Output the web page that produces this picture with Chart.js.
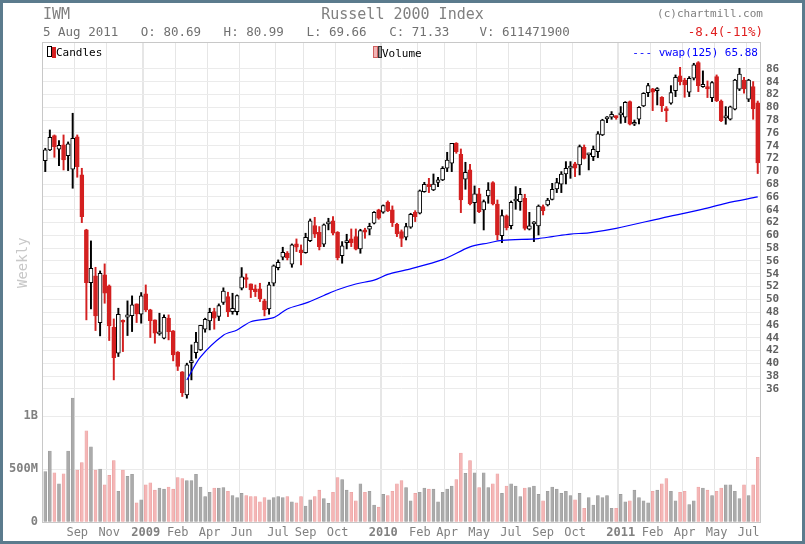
<!DOCTYPE html>
<html><head><meta charset="utf-8">
<script src="https://cdn.jsdelivr.net/npm/chart.js@4/dist/chart.umd.min.js"></script>
<style>
html,body{margin:0;padding:0;background:#fff;}
#wrap{position:relative;width:805px;height:544px;overflow:hidden;font-family:"DejaVu Sans Mono",monospace;}
canvas{position:absolute;left:0;top:0;}
.t{position:absolute;white-space:pre;color:#808080;font-size:13px;}
#frame{position:absolute;left:0;top:0;width:805px;height:544px;box-sizing:border-box;border:3px solid #5b7b8d;pointer-events:none;}
</style></head>
<body><div id="wrap">
<canvas id="c" width="805" height="544"></canvas>
<div class="t" style="left:43px;top:5px;font-size:15px;">IWM</div>
<div class="t" style="left:0;width:805px;text-align:center;top:5px;font-size:15px;">Russell 2000 Index</div>
<div class="t" style="right:42px;top:7px;font-size:11px;">(c)chartmill.com</div>
<div class="t" style="left:43px;top:24px;font-size:12.5px;color:#707070;">5 Aug 2011   O: 80.69   H: 80.99   L: 69.66   C: 71.33    V: 611471900</div>
<div class="t" style="right:42px;top:24px;font-size:12.5px;color:#e02020;">-8.4(-11%)</div>
<div class="t" style="left:47px;top:46px;font-size:11px;color:#000;"><span style="display:inline-block;width:3px;height:9px;border:1px solid #000;vertical-align:-1px"></span><span style="display:inline-block;width:4px;height:11px;background:#d42020;vertical-align:-2px"></span>Candles</div>
<div class="t" style="left:373px;top:46px;font-size:11px;color:#000;"><span style="display:inline-block;width:3px;height:10px;background:#f2b5b5;border:1px solid #d06060;vertical-align:-1px"></span><span style="display:inline-block;width:2px;height:10px;background:#999;border:1px solid #333;vertical-align:-1px"></span>Volume</div>
<div class="t" style="right:47px;top:46px;font-size:11px;color:#0000ff;">--- vwap(125) 65.88</div>
<div class="t" style="left:2px;top:260px;width:40px;text-align:center;font-size:14px;color:#c8c8c8;transform:rotate(-90deg);">Weekly</div>
<div id="frame"></div>
</div>
<script>
const opens=[71.68,73.35,75.59,73.45,74.13,72.46,70.33,75.38,69.44,60.85,52.62,53.66,46.37,53.82,52.1,45.64,41.58,46.63,47.2,47.46,49.29,47.67,50.85,48.35,46.79,44.6,43.92,47.05,45.07,41.74,38.66,35.07,40.12,41.68,42.1,45.33,46.63,48.09,47.31,49.5,50.43,48.09,48.09,51.73,53.24,52.41,51.63,51.63,49.76,48.5,52.51,54.96,56.58,57.2,55.48,58.66,57.72,57.3,59.18,61.52,60.48,58.61,61.78,62.25,60.48,56.84,58.87,59.44,59.8,57.88,60.85,60.95,61.89,63.97,63.61,65.17,63.97,61.73,60.6,59.7,61.26,63.6,63.45,66.83,68.03,67.09,68.29,68.66,70.48,71.26,74.38,72.67,68.76,70.22,65.11,66.47,63.97,66.16,68.24,64.9,59.96,63.03,61.52,65.37,65.27,65.79,60.95,61.78,61.47,64.49,64.75,65.63,67.25,67.98,69.59,70.48,71.16,71.0,73.76,72.58,72.31,73.09,75.69,78.19,78.45,78.66,78.82,78.45,80.9,77.36,78.14,80.22,82.3,82.88,82.62,81.58,79.81,80.64,82.62,84.91,84.28,82.36,84.55,86.99,83.24,83.24,81.53,84.81,81.0,78.35,78.14,79.7,82.83,84.28,81.27,83.24,80.69];
const closes=[73.35,75.33,73.87,74.08,71.79,74.29,75.17,70.74,62.93,52.62,54.86,47.41,54.08,50.95,45.85,40.9,47.67,46.42,47.57,49.13,47.72,50.54,48.35,46.68,44.7,44.86,47.2,44.96,41.32,39.5,35.43,39.76,40.38,43.3,45.95,46.89,47.98,47.05,49.03,51.3,48.09,48.61,50.59,53.5,53.1,51.47,51.21,50.07,48.35,52.25,55.22,55.8,57.36,56.52,58.5,58.14,57.3,59.7,62.25,60.17,58.24,61.63,62.04,60.33,56.52,58.35,58.97,58.87,57.83,60.74,60.48,61.42,63.61,62.67,64.65,63.82,61.99,60.22,59.5,61.36,63.29,62.93,66.94,67.98,67.61,68.03,68.66,70.48,71.78,74.38,73.08,65.53,69.85,64.9,66.47,63.71,65.27,67.09,64.9,60.06,63.08,61.21,65.17,65.53,66.42,61.1,61.47,61.88,64.59,63.86,65.53,67.2,68.24,69.59,70.48,70.84,70.48,73.86,72.04,72.68,73.45,75.85,78.03,78.35,78.92,78.4,79.08,80.8,77.36,77.67,80.01,82.2,83.4,82.36,82.88,80.28,79.49,82.3,84.7,84.03,83.5,84.55,86.63,83.4,83.61,82.88,83.87,81.06,77.93,78.45,80.1,84.28,85.22,82.88,84.28,79.75,71.33];
const highs=[73.61,76.47,75.69,74.81,75.69,74.6,79.08,75.69,70.48,60.95,59.13,55.01,54.44,55.54,52.25,46.94,48.61,46.79,49.76,50.54,49.29,51.06,52.25,48.45,46.79,47.83,47.57,47.57,45.12,41.84,38.71,40.02,42.88,44.86,45.95,47.05,48.61,48.61,49.29,51.8,51.11,50.95,50.69,54.96,53.97,52.41,52.25,52.51,50.02,52.67,55.38,56.16,58.14,57.46,58.66,59.44,58.5,60.33,62.56,62.82,61.37,61.78,62.67,62.93,60.59,59.02,60.17,61.0,61.0,60.95,61.11,61.89,63.71,64.08,64.75,65.38,64.6,61.89,60.85,61.88,63.45,63.86,67.09,68.29,68.91,69.59,69.07,70.74,72.98,74.38,74.49,73.5,71.42,71.1,67.72,67.35,65.53,68.24,68.39,65.53,63.97,63.19,65.37,67.61,67.35,66.42,63.6,62.15,64.75,64.75,65.79,68.13,68.91,69.96,71.52,71.52,71.42,74.12,74.12,72.84,73.97,76.21,78.14,78.56,79.34,78.66,80.12,80.9,81.0,78.03,80.12,82.3,83.76,82.98,83.09,81.68,80.12,83.4,85.07,86.26,84.55,84.81,86.89,87.15,85.7,84.13,84.03,85.07,81.16,80.12,80.2,84.39,86.11,84.7,84.39,84.03,80.99];
const lows=[69.96,73.24,72.2,70.9,70.22,70.12,67.36,69.08,61.99,46.79,48.5,45.12,44.29,49.39,43.56,37.41,41.06,41.84,44.34,44.96,46.37,46.27,48.09,44.03,43.14,44.39,43.82,43.66,40.38,38.87,34.81,34.55,37.41,40.8,42.0,44.86,45.22,45.33,46.68,49.2,47.3,47.67,47.57,51.47,51.84,50.27,50.43,49.65,47.41,47.67,52.1,54.6,56.16,56.16,55.01,57.46,55.38,57.2,59.02,59.65,57.72,58.24,60.85,60.07,56.16,55.64,57.88,58.24,57.72,57.2,59.54,60.07,61.78,62.51,63.45,63.71,61.37,59.8,58.24,59.28,61.1,62.15,63.34,66.73,66.68,66.99,67.61,68.55,69.96,69.96,72.82,63.55,67.2,64.75,61.88,63.55,60.84,65.01,64.75,59.28,58.86,60.84,61.0,64.07,63.91,60.84,60.84,59.02,60.06,63.19,64.59,65.53,66.68,66.68,68.03,68.91,69.18,69.44,71.94,70.22,71.68,72.15,75.59,77.62,78.14,78.14,77.51,77.62,77.25,77.15,77.41,80.12,81.68,79.49,80.38,79.34,77.77,80.49,81.68,83.5,81.58,81.68,84.28,82.46,83.14,81.53,80.9,80.9,77.77,77.36,78.03,79.6,82.62,82.2,80.9,78.14,69.66];
const volumesM=[475,670,465,360,455,670,1170,490,560,860,710,490,500,350,440,580,290,490,430,450,180,210,350,370,300,320,310,330,310,420,410,390,390,450,330,240,280,320,320,325,290,250,230,270,250,240,240,190,230,210,230,240,230,240,190,180,240,150,210,240,300,220,175,280,420,400,300,280,200,360,280,290,160,140,260,250,290,360,390,325,200,270,280,320,310,310,190,280,310,340,400,650,460,580,465,325,465,325,360,455,270,340,360,340,240,320,325,340,260,200,290,330,310,270,290,250,210,270,130,230,160,250,230,250,130,130,260,190,200,300,230,200,180,290,300,360,410,290,200,280,290,165,200,330,320,300,250,290,320,350,350,290,220,350,250,350,610];
const volTicks=[0,500e6,1000e6];
const volTickLabels=['0','500M','1B'];
const vwapVals=new Array(157).fill(null);
const vwapRead={31:37.4,34:41.0,39:44.4,42:45.2,45:46.5,50:47.15,53:48.5,57:49.4,61:50.6,64:51.5,68:52.4,72:53.0,75:53.9,79:54.6,87:56.2,93:58.2,97:58.8,100:59.2,108:59.5,111:59.8,115:60.2,119:60.4,125:61.1,135:62.7,144:64.1,149:65.0,156:66.0};
for(const k in vwapRead) vwapVals[+k]=vwapRead[k];
const tickLabels={7:'Sep',14:'Nov',22:'2009',29:'Feb',36:'Apr',43:'Jun',51:'Jul',57:'Sep',64:'Oct',74:'2010',82:'Feb',88:'Apr',95:'May',102:'Jul',109:'Sep',116:'Oct',126:'2011',133:'Feb',140:'Apr',147:'May',154:'Jul'};
const categories=opens.map((_,i)=>'w'+i);

const RED='#d42020', BLK='#000';
const down=opens.map((o,i)=>closes[i]<o);
const frame={id:'frame',beforeDraw(c){const a=c.chartArea,x=c.ctx;x.save();x.strokeStyle='#c8c8c8';x.lineWidth=1;x.strokeRect(Math.round(a.left)-0.5,Math.round(a.top)-0.5,Math.round(a.width)+1,Math.round(a.height)+1);x.restore();}};
new Chart(document.getElementById('c'),{
 type:'bar',
 data:{labels:categories,datasets:[
  {type:'line',data:vwapVals,yAxisID:'p',borderColor:'#0000ff',borderWidth:1.2,pointRadius:0,spanGaps:true,tension:0.3,order:0},
  {data:opens.map((o,i)=>[o,closes[i]]),yAxisID:'p',grouped:false,barThickness:4,
   backgroundColor:down.map(d=>d?RED:'#fff'),borderColor:down.map(d=>d?RED:BLK),borderWidth:1,borderSkipped:false,minBarLength:2,order:1},
  {data:lows.map((l,i)=>[l,highs[i]]),yAxisID:'p',grouped:false,barThickness:1.3,
   backgroundColor:down.map(d=>d?RED:BLK),borderWidth:0,order:2},
  {data:volumesM.map(v=>v*1e6),yAxisID:'v',grouped:false,barThickness:3,
   backgroundColor:down.map(d=>d?'#f4b6b6':'#ababab'),borderColor:down.map(d=>d?'#eaa0a0':'#9a9a9a'),borderWidth:0.6,borderSkipped:false,order:3}
 ]},
 options:{animation:false,responsive:false,maintainAspectRatio:false,
  layout:{padding:{top:43,left:0,right:0,bottom:0}},
  plugins:{legend:{display:false},tooltip:{enabled:false}},
  scales:{
   x:{grid:{color:c=>tickLabels[c.index]!==undefined?'#e6e6e6':'rgba(0,0,0,0)',drawTicks:false,lineWidth:c=>tickLabels[c.index]&&/^20/.test(tickLabels[c.index])?2:1},border:{display:false},
      afterFit:s=>{s.height=22;},
      ticks:{autoSkip:false,maxRotation:0,padding:4,color:'#808080',
        font:c=>({family:'DejaVu Sans Mono',size:12,weight:(tickLabels[c.index]||'').startsWith('20')?'bold':'normal'}),
        callback:(v,i)=>tickLabels[i]||''}},
   p:{position:'right',min:15.2,max:90.06,border:{display:false},
      afterFit:s=>{s.width=45;},
      grid:{color:c=>c.tick&&c.tick.value>=36&&c.tick.value<=86?'#ebebeb':'rgba(0,0,0,0)',drawTicks:false},
      ticks:{autoSkip:false,stepSize:2,padding:6,color:'#606060',font:{family:'DejaVu Sans Mono',size:11,weight:'bold'},
        callback:v=>(v>=36&&v<=86)?String(v):''}},
   v:{position:'left',min:0,max:4.519e9,border:{display:false},
      afterFit:s=>{s.width=43;},
      afterBuildTicks:s=>{s.ticks=volTicks.map(v=>({value:v}));},
      grid:{color:c=>c.tick&&c.tick.value>0?'#ebebeb':'rgba(0,0,0,0)',drawTicks:false},
      ticks:{autoSkip:false,padding:5,color:'#808080',font:{family:'DejaVu Sans Mono',size:12,weight:'bold'},
        callback:(v,i)=>volTickLabels[i]}}
  }},
 plugins:[frame]
});
</script></body></html>
